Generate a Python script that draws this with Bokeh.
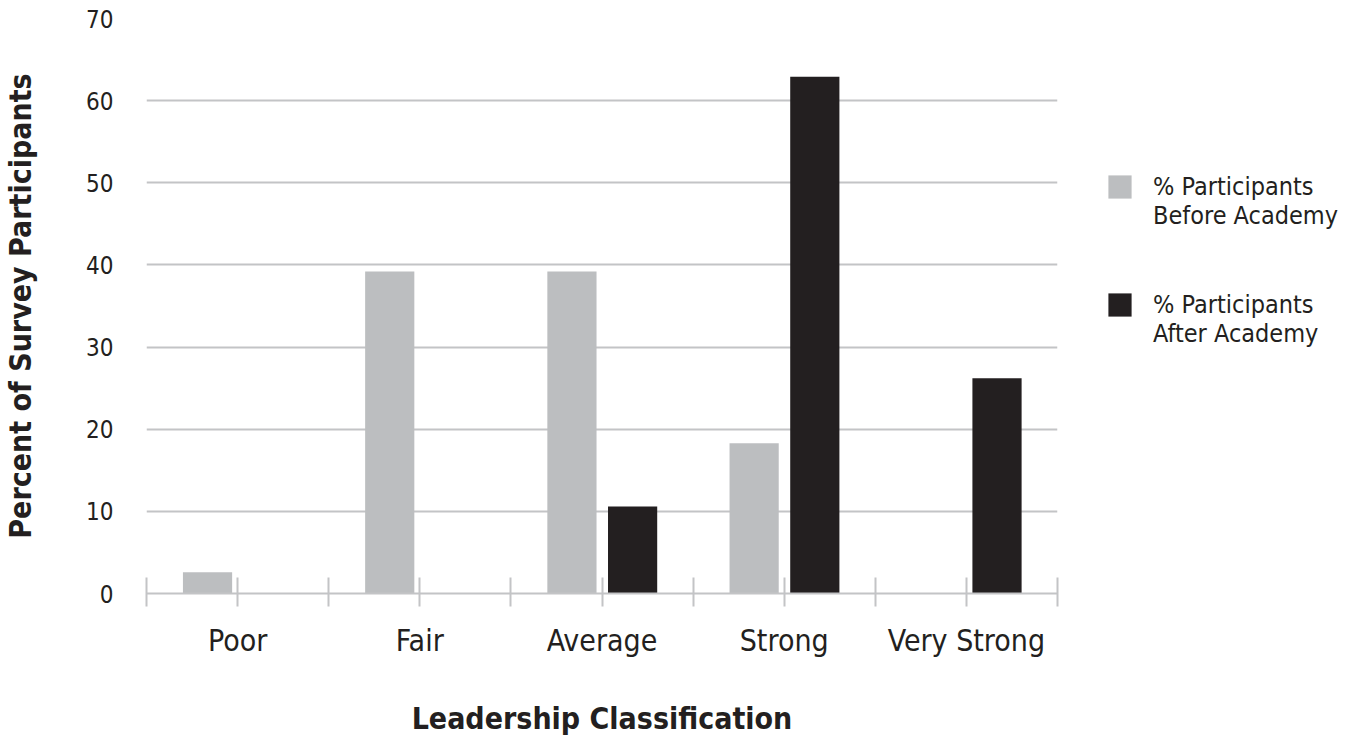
from bokeh.plotting import figure
from bokeh.models import ColumnDataSource, FixedTicker, Range1d, Legend, LegendItem
from bokeh.transform import dodge
from bokeh.embed import file_html
from bokeh.resources import INLINE

categories = ["Poor", "Fair", "Average", "Strong", "Very Strong"]
before_pct = [2.6, 39.2, 39.2, 18.3, 0.0]
after_pct = [0.0, 0.0, 10.6, 62.9, 26.2]
y_ticks = [0, 10, 20, 30, 40, 50, 60, 70]
series_labels = ["% Participants\nBefore Academy", "% Participants\nAfter Academy"]

FONT = "'DejaVu Sans Condensed', sans-serif"
GRID = "#c3c4c6"
BEFORE = "#bcbec0"
AFTER = "#231f20"
TEXT = "#231f20"

centers = [i + 0.5 for i in range(len(categories))]
bounds = [float(i) for i in range(len(categories) + 1)]

src = ColumnDataSource(dict(x=centers, before=before_pct, after=after_pct))

p = figure(frame_width=911, frame_height=575, output_backend="svg", toolbar_location=None,
           x_range=Range1d(0, len(categories)), y_range=Range1d(0, 70),
           min_border_left=138, min_border_top=18, min_border_bottom=0, min_border_right=0)
p.outline_line_color = None
p.background_fill_color = "white"

r1 = p.vbar(x=dodge("x", -0.165, range=p.x_range), top="before", width=0.27, source=src,
            fill_color=BEFORE, line_color=None)
r2 = p.vbar(x=dodge("x", 0.168, range=p.x_range), top="after", width=0.27, source=src,
            fill_color=AFTER, line_color=None)

# y axis
p.yaxis.ticker = FixedTicker(ticks=y_ticks)
p.yaxis.axis_line_color = None
p.yaxis.major_tick_line_color = None
p.yaxis.minor_tick_line_color = None
p.yaxis.major_label_text_font = FONT
p.yaxis.major_label_text_font_size = "24px"
p.yaxis.major_label_text_color = TEXT
p.yaxis.major_label_standoff = 27
p.yaxis.axis_label = "Percent of Survey Participants"
p.yaxis.axis_label_text_font = FONT
p.yaxis.axis_label_text_font_style = "bold"
p.yaxis.axis_label_text_font_size = "30px"
p.yaxis.axis_label_text_color = TEXT
p.yaxis.axis_label_standoff = 45

# x axis
p.xaxis.ticker = FixedTicker(ticks=centers, minor_ticks=bounds)
p.xaxis.major_label_overrides = {c: lab for c, lab in zip(centers, categories)}
p.xaxis.axis_line_color = GRID
p.xaxis.axis_line_width = 2
p.xaxis.major_tick_line_color = GRID
p.xaxis.major_tick_line_width = 2
p.xaxis.minor_tick_line_color = GRID
p.xaxis.minor_tick_line_width = 2
p.xaxis.major_tick_in = 16
p.xaxis.major_tick_out = 13
p.xaxis.minor_tick_in = 16
p.xaxis.minor_tick_out = 13
p.xaxis.major_label_text_font = FONT
p.xaxis.major_label_text_font_size = "30px"
p.xaxis.major_label_text_color = TEXT
p.xaxis.major_label_standoff = 16
p.xaxis.axis_label = "Leadership Classification"
p.xaxis.axis_label_text_font = FONT
p.xaxis.axis_label_text_font_style = "bold"
p.xaxis.axis_label_text_font_size = "30px"
p.xaxis.axis_label_text_color = TEXT
p.xaxis.axis_label_standoff = 40

p.xgrid.grid_line_color = None
p.ygrid.grid_line_color = GRID
p.ygrid.grid_line_width = 2

legend = Legend(items=[LegendItem(label="\n" + series_labels[0], renderers=[r1]),
                       LegendItem(label="\n" + series_labels[1], renderers=[r2])],
                location=(48, 245))
legend.border_line_color = None
legend.background_fill_color = None
legend.glyph_width = 29
legend.glyph_height = 29
legend.label_text_font = FONT
legend.label_text_font_size = "25px"
legend.label_text_color = TEXT
legend.label_standoff = 19
legend.spacing = 31
legend.padding = 0
legend.margin = 0
p.add_layout(legend, "right")

open("out.html", "w").write(file_html(p, INLINE))
